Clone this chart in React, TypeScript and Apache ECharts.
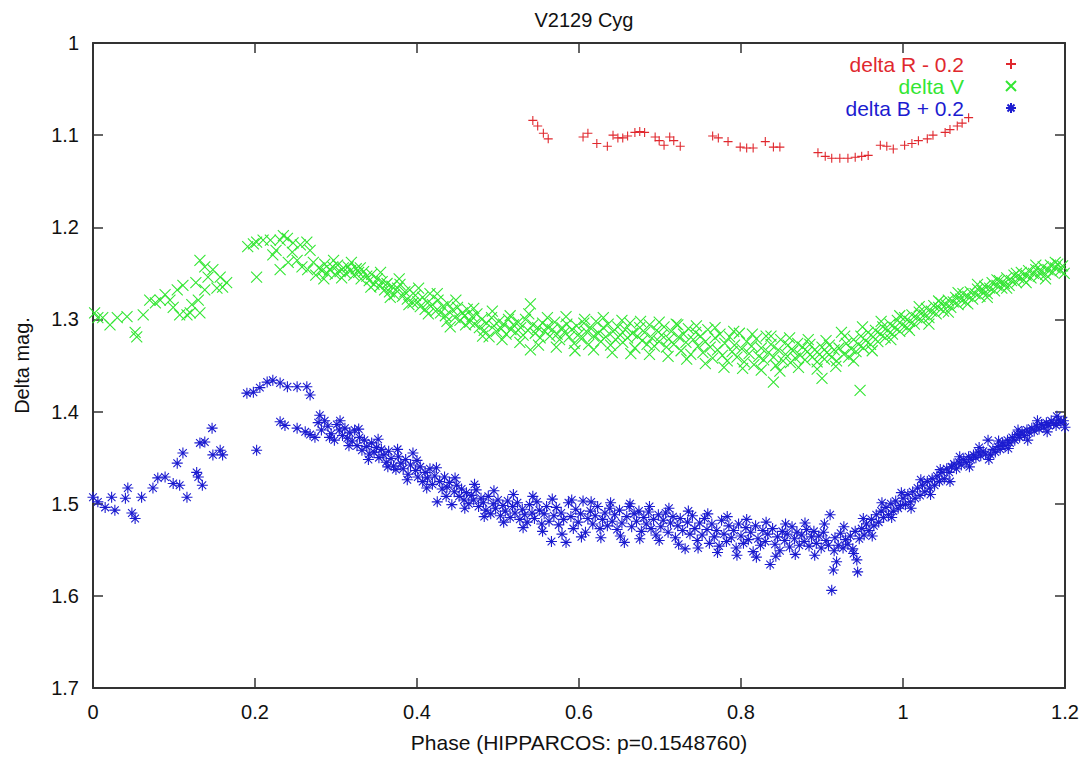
import React, { useEffect, useRef } from "react";
import * as echarts from "echarts";

const TITLE = "V2129 Cyg";
const X_NAME = "Phase (HIPPARCOS: p=0.1548760)";
const Y_NAME = "Delta mag.";
const SERIES_NAMES = ["delta R - 0.2", "delta V", "delta B + 0.2"];
const SERIES_COLORS = ["#e0282e", "#33e633", "#1c1cd0"];
const X_TICKS = [0, 0.2, 0.4, 0.6, 0.8, 1, 1.2];
const Y_TICKS = [1, 1.1, 1.2, 1.3, 1.4, 1.5, 1.6, 1.7];

// delta R - 0.2  [phase, mag]
const redPoints: number[][] = [
  [0.543, 1.084], [0.549, 1.09], [0.556, 1.098], [0.562, 1.104],
  [0.605, 1.102], [0.611, 1.098], [0.622, 1.109], [0.635, 1.112], [0.642, 1.1], [0.648, 1.103],
  [0.654, 1.103], [0.66, 1.101], [0.669, 1.097], [0.675, 1.096], [0.681, 1.097], [0.694, 1.102],
  [0.699, 1.106], [0.705, 1.111], [0.712, 1.102], [0.717, 1.106], [0.725, 1.112],
  [0.765, 1.101], [0.772, 1.103], [0.784, 1.107], [0.799, 1.113], [0.807, 1.114], [0.815, 1.114],
  [0.83, 1.107], [0.84, 1.113], [0.848, 1.113],
  [0.895, 1.119], [0.904, 1.123], [0.912, 1.125], [0.922, 1.125], [0.932, 1.125], [0.941, 1.124],
  [0.949, 1.123], [0.957, 1.122], [0.972, 1.111], [0.98, 1.112], [0.988, 1.115], [1.002, 1.111],
  [1.011, 1.109], [1.019, 1.106], [1.03, 1.104], [1.037, 1.1], [1.052, 1.097], [1.058, 1.094],
  [1.067, 1.09], [1.073, 1.087], [1.081, 1.081],
];

// delta V, early scattered part
const greenEarly: number[][] = [
  [0.002, 1.293], [0.006, 1.298], [0.012, 1.298], [0.021, 1.306], [0.03, 1.298], [0.042, 1.297],
  [0.052, 1.314], [0.054, 1.319], [0.062, 1.295], [0.07, 1.279], [0.077, 1.282], [0.083, 1.279],
  [0.089, 1.273], [0.095, 1.279], [0.099, 1.287], [0.104, 1.268], [0.107, 1.295], [0.111, 1.263],
  [0.116, 1.295], [0.12, 1.293], [0.122, 1.284], [0.127, 1.26], [0.13, 1.279], [0.132, 1.293],
  [0.132, 1.236], [0.138, 1.243], [0.138, 1.268], [0.142, 1.254], [0.148, 1.246], [0.153, 1.266],
  [0.157, 1.254], [0.16, 1.265], [0.165, 1.26],
  [0.191, 1.221], [0.198, 1.218], [0.202, 1.216], [0.21, 1.214], [0.202, 1.254], [0.219, 1.214],
  [0.222, 1.23], [0.226, 1.225], [0.231, 1.214], [0.235, 1.209], [0.24, 1.212], [0.247, 1.217],
  [0.256, 1.219], [0.264, 1.216], [0.268, 1.225], [0.231, 1.246], [0.241, 1.238], [0.246, 1.227],
  [0.252, 1.236], [0.258, 1.243], [0.265, 1.246],
];

// delta V, main band
const greenBand: number[][] = [
  [0.272, 1.238], [0.275, 1.252], [0.279, 1.244], [0.283, 1.247], [0.286, 1.24], [0.289, 1.25],
  [0.292, 1.246], [0.296, 1.243], [0.299, 1.251], [0.302, 1.241], [0.305, 1.248], [0.309, 1.244],
  [0.312, 1.25], [0.315, 1.243], [0.318, 1.247], [0.322, 1.252], [0.325, 1.245], [0.328, 1.249],
  [0.331, 1.256], [0.334, 1.248], [0.338, 1.253], [0.341, 1.258], [0.344, 1.251], [0.347, 1.262],
  [0.351, 1.256], [0.354, 1.264], [0.357, 1.259], [0.36, 1.268], [0.363, 1.261], [0.366, 1.27],
  [0.369, 1.264], [0.372, 1.273], [0.376, 1.266], [0.379, 1.262], [0.382, 1.275], [0.385, 1.27],
  [0.388, 1.278], [0.391, 1.268], [0.395, 1.282], [0.398, 1.274], [0.401, 1.281], [0.404, 1.286],
  [0.407, 1.276], [0.41, 1.289], [0.413, 1.282], [0.416, 1.272], [0.419, 1.284], [0.423, 1.291],
  [0.426, 1.279], [0.429, 1.293], [0.432, 1.286], [0.435, 1.296], [0.438, 1.283], [0.441, 1.308],
  [0.444, 1.29], [0.447, 1.298], [0.45, 1.287], [0.453, 1.301], [0.456, 1.293], [0.459, 1.296],
  [0.462, 1.289], [0.465, 1.303], [0.468, 1.297], [0.471, 1.305], [0.474, 1.294], [0.477, 1.309],
  [0.48, 1.3], [0.483, 1.312], [0.486, 1.304], [0.489, 1.319], [0.492, 1.298], [0.495, 1.307],
  [0.498, 1.313], [0.501, 1.302], [0.504, 1.31], [0.507, 1.305], [0.51, 1.316], [0.513, 1.3],
  [0.516, 1.311], [0.519, 1.306], [0.522, 1.314], [0.525, 1.303], [0.528, 1.309], [0.531, 1.317],
  [0.534, 1.3], [0.537, 1.312], [0.54, 1.283], [0.54, 1.333], [0.543, 1.306], [0.546, 1.315],
  [0.549, 1.309], [0.552, 1.32], [0.555, 1.304], [0.558, 1.313], [0.561, 1.308], [0.564, 1.318],
  [0.567, 1.311], [0.57, 1.303], [0.573, 1.316], [0.576, 1.322], [0.579, 1.309], [0.582, 1.314],
  [0.585, 1.305], [0.588, 1.319], [0.591, 1.311], [0.594, 1.326], [0.597, 1.307], [0.6, 1.316],
  [0.603, 1.321], [0.606, 1.304], [0.609, 1.313], [0.612, 1.327], [0.615, 1.31], [0.618, 1.318],
  [0.621, 1.302], [0.624, 1.315], [0.627, 1.324], [0.63, 1.309], [0.633, 1.319], [0.636, 1.305],
  [0.639, 1.328], [0.642, 1.313], [0.645, 1.322], [0.648, 1.308], [0.651, 1.317], [0.654, 1.325],
  [0.657, 1.311], [0.66, 1.32], [0.663, 1.304], [0.666, 1.315], [0.669, 1.331], [0.672, 1.318],
  [0.675, 1.309], [0.678, 1.323], [0.681, 1.314], [0.684, 1.327], [0.687, 1.306], [0.69, 1.32],
  [0.693, 1.329], [0.696, 1.312], [0.699, 1.324], [0.702, 1.317], [0.705, 1.308], [0.708, 1.33],
  [0.711, 1.321], [0.714, 1.313], [0.717, 1.327], [0.72, 1.305], [0.723, 1.319], [0.726, 1.334],
  [0.729, 1.316], [0.732, 1.325], [0.735, 1.31], [0.738, 1.338], [0.741, 1.322], [0.744, 1.314],
  [0.747, 1.329], [0.75, 1.318], [0.753, 1.336], [0.756, 1.324], [0.759, 1.311], [0.762, 1.33],
  [0.765, 1.342], [0.768, 1.32], [0.771, 1.333], [0.774, 1.316], [0.777, 1.339], [0.78, 1.326],
  [0.783, 1.345], [0.786, 1.319], [0.789, 1.335], [0.792, 1.328], [0.795, 1.341], [0.798, 1.315],
  [0.801, 1.332], [0.804, 1.346], [0.807, 1.324], [0.81, 1.337], [0.813, 1.329], [0.816, 1.349],
  [0.819, 1.321], [0.822, 1.34], [0.825, 1.331], [0.828, 1.344], [0.831, 1.318], [0.834, 1.336],
  [0.837, 1.327], [0.84, 1.368], [0.84, 1.341], [0.843, 1.35], [0.846, 1.333], [0.849, 1.322],
  [0.852, 1.345], [0.855, 1.338], [0.858, 1.328], [0.861, 1.347], [0.864, 1.334], [0.867, 1.342],
  [0.87, 1.326], [0.873, 1.339], [0.876, 1.33], [0.879, 1.344], [0.882, 1.335], [0.885, 1.327],
  [0.888, 1.341], [0.891, 1.333], [0.894, 1.346], [0.897, 1.338], [0.9, 1.364], [0.9, 1.33],
  [0.903, 1.343], [0.906, 1.336], [0.909, 1.328], [0.912, 1.341], [0.915, 1.333], [0.918, 1.345],
  [0.921, 1.331], [0.924, 1.314], [0.927, 1.338], [0.93, 1.326], [0.933, 1.341], [0.936, 1.332],
  [0.939, 1.322], [0.942, 1.335], [0.945, 1.327], [0.947, 1.377], [0.948, 1.318], [0.951, 1.331],
  [0.954, 1.323], [0.957, 1.314], [0.96, 1.327], [0.963, 1.319], [0.966, 1.312], [0.969, 1.324],
  [0.972, 1.316], [0.975, 1.308], [0.978, 1.32], [0.981, 1.312], [0.984, 1.305], [0.987, 1.316],
  [0.99, 1.309], [0.993, 1.301], [0.996, 1.313], [0.999, 1.306], [1.002, 1.298], [1.005, 1.309],
  [1.008, 1.302], [1.011, 1.295], [1.014, 1.305], [1.017, 1.298], [1.02, 1.292], [1.023, 1.301],
  [1.026, 1.295], [1.029, 1.288], [1.032, 1.298], [1.035, 1.291], [1.038, 1.285], [1.041, 1.294],
  [1.044, 1.287], [1.047, 1.282], [1.05, 1.291], [1.053, 1.284], [1.056, 1.279], [1.059, 1.287],
  [1.062, 1.281], [1.065, 1.276], [1.068, 1.284], [1.071, 1.278], [1.074, 1.272], [1.077, 1.281],
  [1.08, 1.275], [1.083, 1.27], [1.086, 1.278], [1.089, 1.272], [1.092, 1.267], [1.095, 1.275],
  [1.098, 1.269], [1.101, 1.264], [1.104, 1.272], [1.107, 1.266], [1.11, 1.26], [1.113, 1.269],
  [1.116, 1.263], [1.119, 1.258], [1.122, 1.266], [1.125, 1.261], [1.128, 1.255], [1.131, 1.263],
  [1.134, 1.258], [1.137, 1.252], [1.14, 1.26], [1.143, 1.255], [1.146, 1.249], [1.149, 1.257],
  [1.152, 1.252], [1.155, 1.247], [1.158, 1.255], [1.161, 1.25], [1.164, 1.246], [1.167, 1.253],
  [1.17, 1.248], [1.173, 1.243], [1.176, 1.251], [1.179, 1.246], [1.182, 1.241], [1.185, 1.249],
  [1.188, 1.244], [1.191, 1.24], [1.194, 1.247], [1.197, 1.242],
];

// delta V, band edge points (wider scatter)
const greenEdge: number[][] = [
  [0.285, 1.256], [0.297, 1.236], [0.307, 1.255], [0.319, 1.238], [0.33, 1.244], [0.343, 1.265],
  [0.355, 1.249], [0.367, 1.276], [0.378, 1.256], [0.39, 1.284], [0.402, 1.266], [0.414, 1.294],
  [0.425, 1.272], [0.437, 1.302], [0.448, 1.279], [0.46, 1.306], [0.47, 1.288], [0.481, 1.318],
  [0.493, 1.291], [0.505, 1.322], [0.515, 1.296], [0.527, 1.325], [0.538, 1.294], [0.55, 1.328],
  [0.561, 1.298], [0.572, 1.33], [0.584, 1.297], [0.595, 1.334], [0.607, 1.3], [0.618, 1.333],
  [0.63, 1.298], [0.641, 1.336], [0.653, 1.301], [0.664, 1.337], [0.676, 1.302], [0.687, 1.338],
  [0.699, 1.303], [0.71, 1.34], [0.722, 1.306], [0.733, 1.343], [0.745, 1.307], [0.756, 1.348],
  [0.768, 1.309], [0.779, 1.352], [0.791, 1.313], [0.802, 1.353], [0.814, 1.316], [0.825, 1.355],
  [0.837, 1.318], [0.848, 1.356], [0.86, 1.32], [0.871, 1.352], [0.883, 1.322], [0.894, 1.354],
  [0.905, 1.323], [0.917, 1.351], [0.928, 1.318], [0.939, 1.345], [0.95, 1.308], [0.962, 1.334],
  [0.973, 1.302], [0.985, 1.322], [0.996, 1.296], [1.008, 1.312], [1.02, 1.286], [1.032, 1.305],
  [1.044, 1.28], [1.056, 1.292], [1.068, 1.271], [1.08, 1.283], [1.092, 1.262], [1.104, 1.276],
  [1.116, 1.257], [1.128, 1.266], [1.14, 1.25], [1.152, 1.26], [1.164, 1.241], [1.176, 1.256],
  [1.188, 1.238], [1.199, 1.25],
];

// delta B + 0.2, early scattered part
const blueEarly: number[][] = [
  [0.0, 1.493], [0.006, 1.498], [0.015, 1.504], [0.023, 1.493], [0.027, 1.507], [0.04, 1.494],
  [0.043, 1.483], [0.048, 1.51], [0.052, 1.516], [0.06, 1.493], [0.074, 1.483], [0.08, 1.472],
  [0.089, 1.471], [0.099, 1.478], [0.104, 1.456], [0.107, 1.48], [0.111, 1.445], [0.116, 1.493],
  [0.128, 1.466], [0.13, 1.471], [0.135, 1.48], [0.132, 1.434], [0.138, 1.433], [0.147, 1.418],
  [0.148, 1.447], [0.157, 1.442], [0.16, 1.447],
  [0.19, 1.38], [0.198, 1.379], [0.206, 1.374], [0.215, 1.368], [0.222, 1.366], [0.231, 1.369],
  [0.24, 1.373], [0.252, 1.373], [0.264, 1.373], [0.268, 1.382], [0.202, 1.442], [0.231, 1.411],
  [0.237, 1.415], [0.252, 1.418], [0.262, 1.422], [0.268, 1.425],
];

// delta B + 0.2, main band
const blueBand: number[][] = [
  [0.274, 1.428], [0.278, 1.412], [0.282, 1.42], [0.286, 1.41], [0.29, 1.416], [0.294, 1.424],
  [0.298, 1.431], [0.301, 1.414], [0.304, 1.42], [0.308, 1.426], [0.311, 1.418], [0.314, 1.429],
  [0.317, 1.423], [0.32, 1.432], [0.323, 1.42], [0.326, 1.437], [0.329, 1.428], [0.332, 1.442],
  [0.335, 1.431], [0.338, 1.438], [0.341, 1.446], [0.344, 1.434], [0.347, 1.444], [0.35, 1.439],
  [0.353, 1.45], [0.356, 1.441], [0.359, 1.447], [0.362, 1.455], [0.365, 1.443], [0.368, 1.451],
  [0.371, 1.459], [0.374, 1.463], [0.377, 1.449], [0.38, 1.456], [0.383, 1.462], [0.386, 1.452],
  [0.389, 1.468], [0.392, 1.458], [0.395, 1.445], [0.398, 1.464], [0.401, 1.471], [0.404, 1.46],
  [0.407, 1.476], [0.41, 1.466], [0.413, 1.472], [0.416, 1.462], [0.419, 1.479], [0.422, 1.47],
  [0.425, 1.498], [0.428, 1.476], [0.431, 1.484], [0.434, 1.471], [0.437, 1.482], [0.44, 1.477],
  [0.443, 1.501], [0.446, 1.487], [0.449, 1.48], [0.452, 1.492], [0.455, 1.484], [0.458, 1.496],
  [0.461, 1.488], [0.464, 1.5], [0.467, 1.491], [0.47, 1.496], [0.473, 1.485], [0.476, 1.503],
  [0.479, 1.494], [0.482, 1.499], [0.485, 1.507], [0.488, 1.492], [0.491, 1.511], [0.494, 1.5],
  [0.497, 1.505], [0.5, 1.496], [0.503, 1.513], [0.506, 1.502], [0.509, 1.508], [0.512, 1.497],
  [0.515, 1.515], [0.518, 1.503], [0.521, 1.51], [0.524, 1.499], [0.527, 1.517], [0.53, 1.506],
  [0.533, 1.512], [0.536, 1.52], [0.539, 1.501], [0.542, 1.51], [0.545, 1.516], [0.548, 1.498],
  [0.551, 1.507], [0.554, 1.522], [0.557, 1.511], [0.56, 1.503], [0.563, 1.519], [0.566, 1.541],
  [0.569, 1.513], [0.572, 1.504], [0.575, 1.523], [0.578, 1.51], [0.581, 1.517], [0.584, 1.542],
  [0.587, 1.499], [0.59, 1.514], [0.593, 1.527], [0.596, 1.506], [0.599, 1.52], [0.602, 1.511],
  [0.605, 1.497], [0.608, 1.531], [0.611, 1.516], [0.614, 1.508], [0.617, 1.522], [0.62, 1.513],
  [0.623, 1.503], [0.626, 1.527], [0.629, 1.517], [0.632, 1.51], [0.635, 1.524], [0.638, 1.505],
  [0.641, 1.519], [0.644, 1.512], [0.647, 1.528], [0.65, 1.507], [0.653, 1.521], [0.656, 1.542],
  [0.659, 1.514], [0.662, 1.503], [0.665, 1.525], [0.668, 1.511], [0.671, 1.519], [0.674, 1.508],
  [0.677, 1.53], [0.68, 1.515], [0.683, 1.522], [0.686, 1.509], [0.689, 1.527], [0.692, 1.517],
  [0.695, 1.534], [0.698, 1.512], [0.701, 1.525], [0.704, 1.518], [0.707, 1.51], [0.71, 1.531],
  [0.713, 1.521], [0.716, 1.514], [0.719, 1.537], [0.722, 1.524], [0.725, 1.516], [0.728, 1.529],
  [0.731, 1.549], [0.734, 1.52], [0.737, 1.533], [0.74, 1.513], [0.743, 1.527], [0.746, 1.54],
  [0.749, 1.521], [0.752, 1.534], [0.755, 1.516], [0.758, 1.528], [0.761, 1.543], [0.764, 1.522],
  [0.767, 1.536], [0.77, 1.529], [0.773, 1.546], [0.776, 1.518], [0.779, 1.533], [0.782, 1.541],
  [0.785, 1.524], [0.788, 1.537], [0.791, 1.529], [0.794, 1.548], [0.797, 1.522], [0.8, 1.535],
  [0.803, 1.543], [0.806, 1.526], [0.809, 1.539], [0.812, 1.531], [0.815, 1.552], [0.818, 1.524],
  [0.821, 1.538], [0.824, 1.545], [0.827, 1.529], [0.83, 1.541], [0.833, 1.533], [0.836, 1.566],
  [0.839, 1.527], [0.842, 1.544], [0.845, 1.536], [0.848, 1.551], [0.851, 1.53], [0.854, 1.54],
  [0.857, 1.533], [0.86, 1.547], [0.863, 1.525], [0.866, 1.538], [0.869, 1.531], [0.872, 1.545],
  [0.875, 1.534], [0.878, 1.541], [0.881, 1.528], [0.884, 1.546], [0.887, 1.536], [0.89, 1.53],
  [0.893, 1.543], [0.896, 1.535], [0.899, 1.548], [0.902, 1.531], [0.905, 1.54], [0.908, 1.545],
  [0.91, 1.512], [0.912, 1.594], [0.914, 1.572], [0.916, 1.537], [0.918, 1.563], [0.92, 1.545],
  [0.923, 1.532], [0.926, 1.548], [0.929, 1.539], [0.932, 1.544], [0.935, 1.535], [0.938, 1.549],
  [0.941, 1.53], [0.943, 1.561], [0.944, 1.574], [0.946, 1.538], [0.949, 1.527], [0.952, 1.534],
  [0.955, 1.522], [0.958, 1.529], [0.961, 1.517], [0.964, 1.524], [0.967, 1.512], [0.97, 1.52],
  [0.973, 1.508], [0.976, 1.515], [0.979, 1.504], [0.982, 1.512], [0.985, 1.5], [0.988, 1.508],
  [0.991, 1.497], [0.994, 1.505], [0.997, 1.502], [1.0, 1.494], [1.003, 1.501], [1.006, 1.49],
  [1.009, 1.498], [1.012, 1.487], [1.015, 1.494], [1.018, 1.483], [1.021, 1.491], [1.024, 1.48],
  [1.027, 1.487], [1.03, 1.476], [1.033, 1.483], [1.036, 1.473], [1.039, 1.48], [1.042, 1.47],
  [1.045, 1.476], [1.048, 1.466], [1.051, 1.473], [1.054, 1.462], [1.057, 1.466], [1.06, 1.46],
  [1.063, 1.457], [1.066, 1.462], [1.069, 1.455], [1.072, 1.458], [1.075, 1.452], [1.078, 1.455],
  [1.081, 1.449], [1.084, 1.452], [1.087, 1.447], [1.09, 1.45], [1.093, 1.444], [1.096, 1.448],
  [1.099, 1.443], [1.102, 1.446], [1.105, 1.431], [1.108, 1.447], [1.111, 1.441], [1.114, 1.444],
  [1.117, 1.438], [1.12, 1.441], [1.123, 1.434], [1.126, 1.437], [1.129, 1.431], [1.132, 1.434],
  [1.135, 1.428], [1.138, 1.431], [1.141, 1.425], [1.144, 1.428], [1.147, 1.422], [1.15, 1.426],
  [1.153, 1.42], [1.156, 1.423], [1.159, 1.418], [1.162, 1.421], [1.165, 1.416], [1.168, 1.419],
  [1.171, 1.414], [1.174, 1.417], [1.177, 1.412], [1.18, 1.415], [1.183, 1.41], [1.186, 1.413],
  [1.189, 1.415], [1.192, 1.409], [1.195, 1.412], [1.198, 1.41],
];

// delta B + 0.2, band edge points (wider scatter)
const blueEdge: number[][] = [
  [0.28, 1.404], [0.292, 1.428], [0.305, 1.41], [0.316, 1.437], [0.328, 1.419], [0.34, 1.452],
  [0.352, 1.43], [0.364, 1.46], [0.376, 1.441], [0.388, 1.474], [0.4, 1.453], [0.412, 1.483],
  [0.424, 1.461], [0.436, 1.492], [0.447, 1.472], [0.459, 1.505], [0.471, 1.479], [0.483, 1.514],
  [0.495, 1.486], [0.507, 1.52], [0.519, 1.49], [0.531, 1.526], [0.543, 1.492], [0.555, 1.53],
  [0.567, 1.495], [0.579, 1.533], [0.591, 1.496], [0.603, 1.536], [0.615, 1.498], [0.627, 1.537],
  [0.639, 1.499], [0.651, 1.535], [0.663, 1.5], [0.675, 1.538], [0.687, 1.503], [0.699, 1.54],
  [0.711, 1.505], [0.723, 1.544], [0.735, 1.508], [0.747, 1.548], [0.759, 1.511], [0.771, 1.553],
  [0.783, 1.514], [0.795, 1.556], [0.807, 1.517], [0.819, 1.558], [0.831, 1.52], [0.843, 1.557],
  [0.855, 1.522], [0.867, 1.555], [0.879, 1.521], [0.891, 1.556], [0.903, 1.522], [0.915, 1.551],
  [0.927, 1.525], [0.939, 1.554], [0.951, 1.516], [0.962, 1.535], [0.974, 1.499], [0.986, 1.515],
  [0.998, 1.488], [1.01, 1.505], [1.022, 1.474], [1.034, 1.49], [1.046, 1.463], [1.058, 1.476],
  [1.07, 1.449], [1.082, 1.46], [1.094, 1.439], [1.106, 1.452], [1.118, 1.432], [1.13, 1.44],
  [1.142, 1.42], [1.154, 1.431], [1.166, 1.41], [1.178, 1.422], [1.19, 1.405], [1.2, 1.417],
];

const PLUS = "path://M0,5L10,5M5,0L5,10";
const CROSS = "path://M0,0L10,10M10,0L0,10";
const STAR = "path://M0,5L10,5M5,0L5,10M1.5,1.5L8.5,8.5M8.5,1.5L1.5,8.5";

const FONT = "'Liberation Sans', Arial, Helvetica, sans-serif";
const TEXT_COLOR = "#111";
const FRAME = "#333";

const fmt = (v: number) => String(Math.round(v * 10) / 10);

export default function App() {
  const ref = useRef<HTMLDivElement>(null);
  useEffect(() => {
    if (!ref.current) return;
    const chart = echarts.init(ref.current, undefined, { renderer: "svg" });
    const xMin = X_TICKS[0];
    const xMax = X_TICKS[X_TICKS.length - 1];
    const yMin = Y_TICKS[0];
    const yMax = Y_TICKS[Y_TICKS.length - 1];
    const xCommon = {
      type: "value" as const,
      min: xMin,
      max: xMax,
      interval: 0.2,
      splitLine: { show: false },
      axisLine: { show: true, onZero: false, lineStyle: { color: FRAME, width: 2 } },
      axisTick: { show: true, inside: true, length: 10, lineStyle: { color: FRAME, width: 1.5 } },
    };
    const yCommon = {
      type: "value" as const,
      min: yMin,
      max: yMax,
      interval: 0.1,
      inverse: true,
      splitLine: { show: false },
      axisLine: { show: true, onZero: false, lineStyle: { color: FRAME, width: 2 } },
      axisTick: { show: true, inside: true, length: 10, lineStyle: { color: FRAME, width: 1.5 } },
    };
    const symbols = [PLUS, CROSS, STAR];
    const sizes = [9, 11, 11];
    const datasets = [
      redPoints,
      greenEarly.concat(greenBand, greenEdge),
      blueEarly.concat(blueBand, blueEdge),
    ];
    chart.setOption({
      animation: false,
      backgroundColor: "#ffffff",
      textStyle: { fontFamily: FONT },
      title: {
        text: TITLE,
        left: 579,
        top: 5,
        textAlign: "center",
        textStyle: { fontFamily: FONT, fontSize: 20, fontWeight: "normal", color: TEXT_COLOR },
      },
      grid: { left: 93, right: 26, top: 43, bottom: 74, show: false },
      legend: {
        orient: "vertical",
        right: 74,
        top: 53,
        padding: 0,
        align: "right",
        itemGap: 0,
        itemWidth: 10,
        itemHeight: 10,
        selectedMode: false,
        data: SERIES_NAMES.map((n, i) => ({
          name: n,
          textStyle: { color: SERIES_COLORS[i] },
        })),
        textStyle: {
          fontFamily: FONT,
          fontSize: 21,
          lineHeight: 22,
          padding: [0, 37, 0, 0],
        },
      },
      xAxis: [
        {
          ...xCommon,
          position: "bottom",
          name: X_NAME,
          nameLocation: "middle",
          nameGap: 44,
          nameTextStyle: { fontFamily: FONT, fontSize: 21, color: TEXT_COLOR },
          axisLabel: { margin: 14, fontFamily: FONT, fontSize: 20, color: TEXT_COLOR, formatter: fmt },
        },
        {
          ...xCommon,
          position: "top",
          axisLabel: { show: false },
        },
      ],
      yAxis: [
        {
          ...yCommon,
          position: "left",
          name: Y_NAME,
          nameLocation: "middle",
          nameGap: 61,
          nameTextStyle: { fontFamily: FONT, fontSize: 20, color: TEXT_COLOR },
          axisLabel: { margin: 14, fontFamily: FONT, fontSize: 20, color: TEXT_COLOR, formatter: fmt },
        },
        {
          ...yCommon,
          position: "right",
          axisLabel: { show: false },
        },
      ],
      series: SERIES_NAMES.map((n, i) => ({
        name: n,
        type: "scatter",
        xAxisIndex: 0,
        yAxisIndex: 0,
        symbol: symbols[i],
        symbolSize: sizes[i],
        itemStyle: {
          color: "rgba(0,0,0,0)",
          borderColor: SERIES_COLORS[i],
          borderWidth: 1.1,
          opacity: 1,
        },
        emphasis: { disabled: true },
        data: datasets[i],
      })),
    });
    return () => chart.dispose();
  }, []);
  return (
    <div
      ref={ref}
      style={{ position: "fixed", left: 0, top: 0, width: 1091, height: 762, background: "#fff" }}
    />
  );
}
